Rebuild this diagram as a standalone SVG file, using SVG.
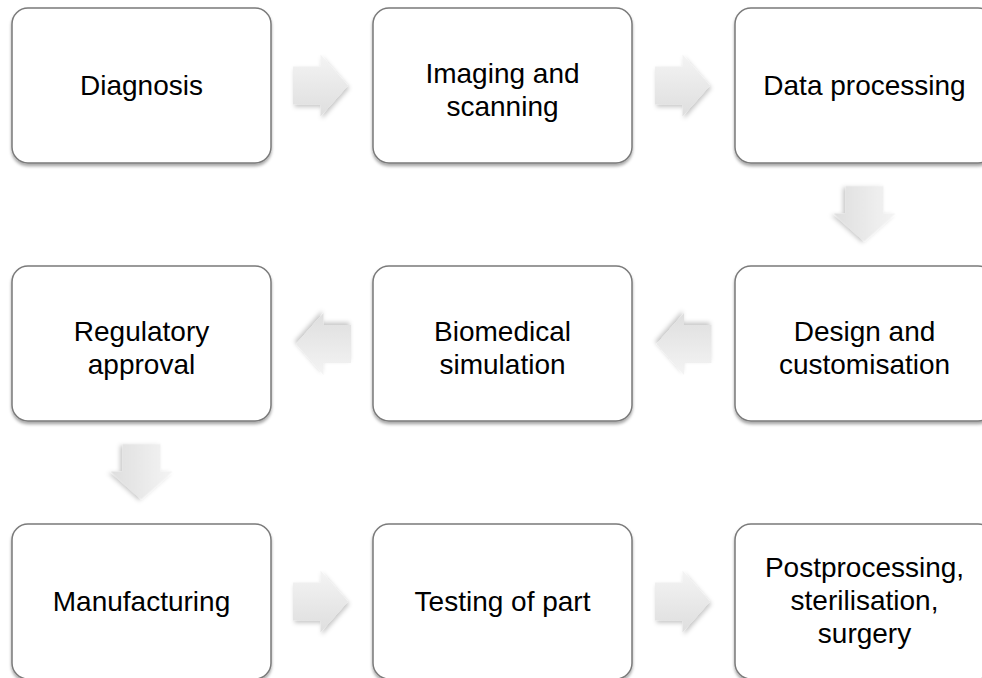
<svg xmlns="http://www.w3.org/2000/svg" width="982" height="678" viewBox="0 0 982 678">
  <defs>
    <filter id="boxShadow" x="-10%" y="-10%" width="120%" height="125%">
      <feDropShadow dx="0" dy="2.5" stdDeviation="1.8" flood-color="#000" flood-opacity="0.35"/>
    </filter>
    <filter id="arrowShadow" x="-20%" y="-20%" width="150%" height="150%">
      <feDropShadow dx="1.5" dy="2.5" stdDeviation="2" flood-color="#000" flood-opacity="0.22"/>
    </filter>
    <linearGradient id="arrowFill" x1="0" y1="0" x2="0" y2="1">
      <stop offset="0" stop-color="#f4f4f4"/>
      <stop offset="1" stop-color="#dedede"/>
    </linearGradient>
    <path id="arrowRight" d="M-27.5,-19 L0,-19 L0,-31 L27.5,0 L0,31 L0,19 L-27.5,19 Z"/>
  </defs>
  <style>
    .box { fill: #ffffff; stroke: #7a7a7a; stroke-width: 1.5; filter: url(#boxShadow); }
    .lbl { font-family: "Liberation Sans", Arial, sans-serif; font-size: 28px; fill: #000000; text-anchor: middle; }
    .arrow { fill: url(#arrowFill); filter: url(#arrowShadow); }
  </style>
  <rect width="982" height="678" fill="#ffffff"/>

  <g id="connectors">
    <use href="#arrowRight" class="arrow" transform="translate(320.5,85.5)"/>
    <use href="#arrowRight" class="arrow" transform="translate(682.5,85.5)"/>
    <use href="#arrowRight" class="arrow" transform="translate(864.5,213.5) rotate(90)"/>
    <use href="#arrowRight" class="arrow" transform="translate(684,344) rotate(180)"/>
    <use href="#arrowRight" class="arrow" transform="translate(323.5,344) rotate(180)"/>
    <use href="#arrowRight" class="arrow" transform="translate(141.5,471.5) rotate(90)"/>
    <use href="#arrowRight" class="arrow" transform="translate(320.5,601.5)"/>
    <use href="#arrowRight" class="arrow" transform="translate(682.5,601.5)"/>
  </g>

  <g id="diagnosis">
    <rect class="box" x="12" y="8" width="259" height="155" rx="16"/>
    <text class="lbl" x="141.5" y="95">Diagnosis</text>
  </g>
  <g id="imaging">
    <rect class="box" x="373" y="8" width="259" height="155" rx="16"/>
    <text class="lbl" x="502.5" y="83">Imaging and</text>
    <text class="lbl" x="502.5" y="116">scanning</text>
  </g>
  <g id="dataprocessing">
    <rect class="box" x="735" y="8" width="259" height="155" rx="16"/>
    <text class="lbl" x="864.5" y="95">Data processing</text>
  </g>

  <g id="regulatory">
    <rect class="box" x="12" y="266" width="259" height="155" rx="16"/>
    <text class="lbl" x="141.5" y="340.5">Regulatory</text>
    <text class="lbl" x="141.5" y="373.5">approval</text>
  </g>
  <g id="biomedical">
    <rect class="box" x="373" y="266" width="259" height="155" rx="16"/>
    <text class="lbl" x="502.5" y="340.5">Biomedical</text>
    <text class="lbl" x="502.5" y="373.5">simulation</text>
  </g>
  <g id="design">
    <rect class="box" x="735" y="266" width="259" height="155" rx="16"/>
    <text class="lbl" x="864.5" y="340.5">Design and</text>
    <text class="lbl" x="864.5" y="373.5">customisation</text>
  </g>

  <g id="manufacturing">
    <rect class="box" x="12" y="524" width="259" height="155" rx="16"/>
    <text class="lbl" x="141.5" y="611">Manufacturing</text>
  </g>
  <g id="testing">
    <rect class="box" x="373" y="524" width="259" height="155" rx="16"/>
    <text class="lbl" x="502.5" y="611">Testing of part</text>
  </g>
  <g id="postprocessing">
    <rect class="box" x="735" y="524" width="259" height="155" rx="16"/>
    <text class="lbl" x="864.5" y="577">Postprocessing,</text>
    <text class="lbl" x="864.5" y="610">sterilisation,</text>
    <text class="lbl" x="864.5" y="643">surgery</text>
  </g>
</svg>
